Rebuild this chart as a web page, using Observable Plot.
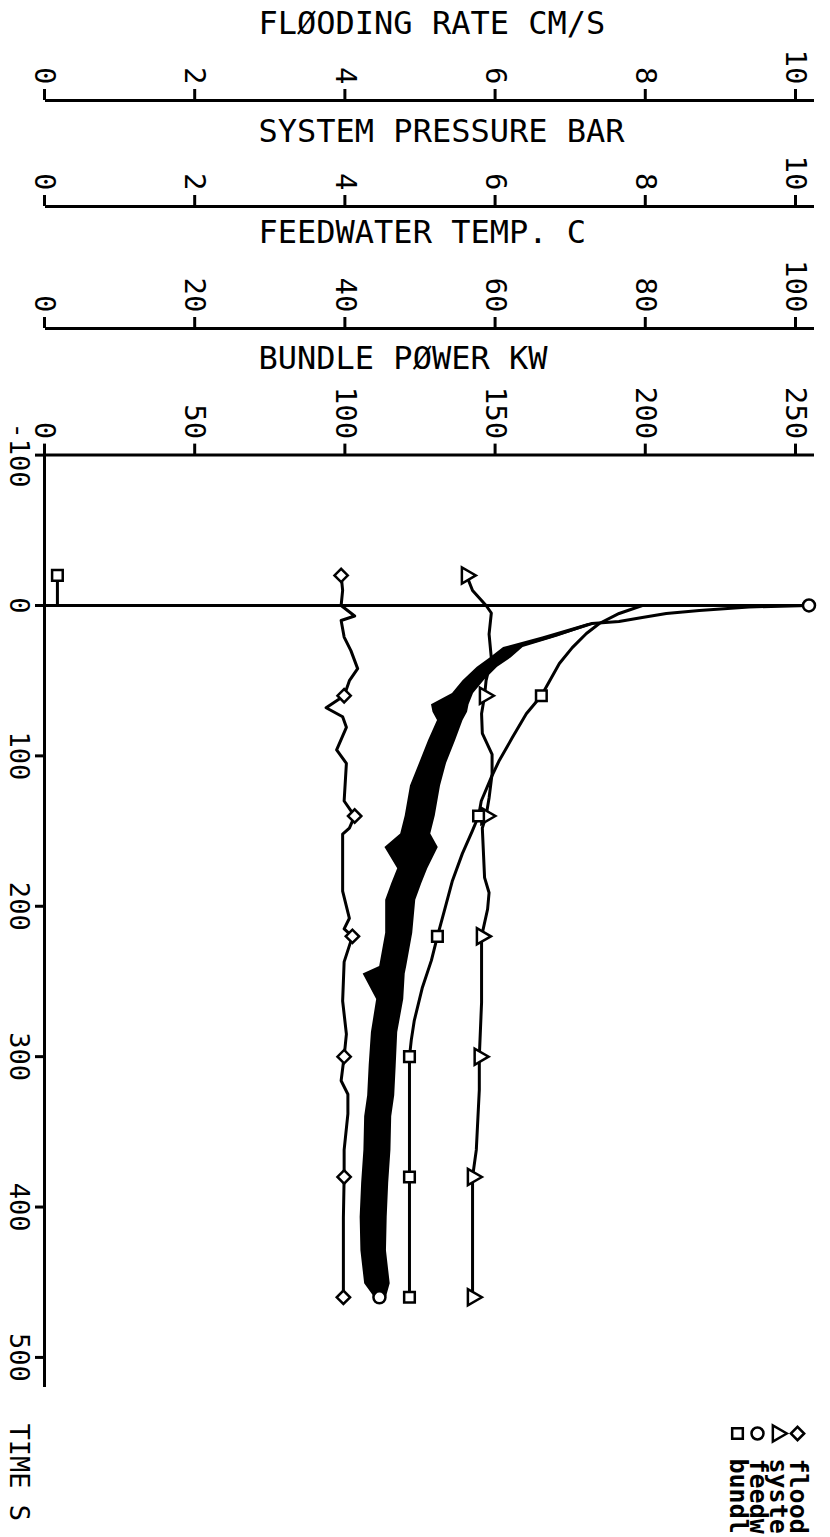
<!DOCTYPE html>
<html><head><meta charset="utf-8">
<script src="https://cdn.jsdelivr.net/npm/d3@7"></script>
<script src="https://cdn.jsdelivr.net/npm/@observablehq/plot@0.6"></script>
<style>
html,body{margin:0;padding:0;background:#fff;width:830px;height:1537px;overflow:hidden}
#rot{position:absolute;left:0;top:0;width:1537px;height:830px;transform-origin:0 0;transform:translate(830px,0) rotate(90deg);background:#fff;overflow:hidden}
#legend{position:absolute;left:1420px;top:0}
</style></head><body><div id="rot"><div id="chart"></div><div id="legend"></div></div>
<script>
// ---- tick labels ----
const timeTicks = [-100, 0, 100, 200, 300, 400, 500];
const floodTicks = [0, 2, 4, 6, 8, 10];
const pressTicks = [0, 2, 4, 6, 8, 10];
const tempTicks = [0, 20, 40, 60, 80, 100];
const powerTicks = [0, 50, 100, 150, 200, 250];

// ---- series names / legend (legend text as visible in the reference, cut at the page edge) ----
const seriesNames = ["flooding rate", "system pressure", "feedwater temp.", "bundle power"];
const legendLabels = ["flood", "syste", "feedw", "bundl"];
const seriesSymbols = ["diamond2", "triangle", "circle", "square"];
const axisTitles = ["FLØODING RATE CM/S", "SYSTEM PRESSURE BAR", "FEEDWATER TEMP. C", "BUNDLE PØWER KW"];

// ---- flooding rate (cm/s) ----
const floodT = [-20, -10, 0, 7, 10, 21, 30, 42, 50, 60, 68, 74, 81, 96, 105, 130, 140, 148, 152, 170, 190, 208, 215, 220, 237, 263, 285, 300, 316, 325, 338, 362, 380, 407, 430, 460];
const floodV = [3.95, 3.97, 3.95, 4.13, 3.95, 3.99, 4.08, 4.17, 4.06, 3.99, 3.75, 3.97, 4.02, 3.89, 4.02, 3.99, 4.13, 4.06, 3.97, 3.97, 3.97, 4.06, 3.99, 4.10, 3.99, 3.97, 4.02, 3.99, 3.95, 4.04, 4.04, 3.99, 3.99, 3.98, 3.98, 3.98];

// ---- system pressure (bar) ----
const pressT = [-20, -10, 0, 5, 19, 35, 50, 60, 72, 85, 99, 112, 128, 140, 148, 181, 191, 202, 220, 264, 300, 322, 362, 380, 428, 460];
const pressV = [5.62, 5.70, 5.88, 5.95, 5.92, 5.95, 5.88, 5.86, 5.82, 5.83, 5.96, 5.96, 5.92, 5.88, 5.83, 5.86, 5.92, 5.90, 5.82, 5.82, 5.79, 5.79, 5.75, 5.70, 5.70, 5.70];

// ---- feedwater temperature (C): centre and noisy envelope ----
const fwT  = [0, 0, 1, 3.3, 5.3, 8, 10.6, 12, 21, 28, 35, 41, 50, 58.5, 66, 71, 76.5, 90, 105, 120, 140, 152, 161, 175, 185, 196, 218, 240, 245, 262, 284, 306, 326, 340, 362, 384, 407, 429, 451, 460];
const fwC  = [0, 101.8, 93.8, 87.2, 82.8, 79.6, 76.5, 72.9, 67.2, 62.3, 60.6, 58.8, 57.0, 55.6, 54.6, 54.2, 53.9, 52.8, 51.6, 50.6, 49.9, 49.3, 49.0, 48.9, 48.1, 47.3, 47.1, 46.3, 46.2, 45.9, 45.1, 44.9, 44.7, 44.3, 44.2, 43.9, 43.7, 43.7, 44.2, 44.6];
const fwLo = [0, 101.8, 93.8, 87.0, 82.6, 79.4, 76.3, 72.3, 66.2, 61.0, 59.2, 57.5, 55.6, 54.2, 51.4, 51.6, 52.2, 51.0, 49.8, 48.6, 47.9, 47.3, 45.2, 46.9, 46.1, 45.3, 45.3, 44.5, 42.3, 44.1, 43.4, 43.1, 42.9, 42.5, 42.4, 42.1, 41.9, 42.0, 42.5, 43.8];
const fwHi = [0, 101.8, 93.8, 87.4, 83.0, 79.8, 76.7, 73.5, 68.2, 63.6, 62.0, 60.2, 58.4, 57.0, 56.4, 56.2, 55.6, 54.6, 53.4, 52.6, 51.9, 51.3, 52.3, 50.9, 50.1, 49.3, 48.9, 48.1, 47.9, 47.7, 46.9, 46.7, 46.5, 46.1, 46.0, 45.7, 45.5, 45.4, 45.9, 45.4];

// ---- bundle power (kW) ----
const powT = [-20, 0, 0, 5.3, 12, 18.6, 28, 38.6, 60, 72, 88, 103, 114, 130, 140, 150, 165, 183, 203, 220, 236, 254, 276, 289, 300, 330, 380, 420, 460];
const powV = [4.3, 4.3, 199, 191.3, 184.7, 180.4, 175.7, 171.4, 165.4, 160.4, 155.7, 151.4, 148.8, 145.4, 144.5, 142.4, 139.1, 135.8, 133.1, 130.8, 128.8, 125.8, 123.1, 122.1, 121.5, 121.5, 121.5, 121.5, 121.5];

// ---- symbol marker times ----
const markTimes = [-20, 60, 140, 220, 300, 380, 460];
const fwMarkTimes = [0, 460];

// common plotting scale is bundle power (kW); other quantities share the axis length
const factor = {"flooding rate": 25, "system pressure": 25, "feedwater temp.": 2.5, "bundle power": 1};

const mk = (name, T, V) => T.map((t, i) => ({s: name, t, y: V[i] * factor[name]}));
const flood = mk("flooding rate", floodT, floodV);
const press = mk("system pressure", pressT, pressV);
const power = mk("bundle power", powT, powV);
const fw = fwT.map((t, i) => ({s: "feedwater temp.", t, y: fwC[i] * 2.5, lo: fwLo[i] * 2.5, hi: fwHi[i] * 2.5}));

const markers = [
  ...flood.filter(d => markTimes.includes(d.t)),
  ...press.filter(d => markTimes.includes(d.t)),
  ...power.filter(d => markTimes.includes(d.t)),
  ...fw.filter(d => fwMarkTimes.includes(d.t) && d.y > 0)
];

const font = "DejaVu Sans Mono";
// stacked value axes: offset of axis line from frame left, ticks, scale factor, title offset
const axes = [
  {dx: -354.6, ticks: floodTicks, f: 25, title: axisTitles[0], tdx: -431.6},
  {dx: -248.6, ticks: pressTicks, f: 25, title: axisTitles[1], tdx: -323.6},
  {dx: -126.6, ticks: tempTicks, f: 2.5, title: axisTitles[2], tdx: -222.6},
  {dx: 0, ticks: powerTicks, f: 1, title: axisTitles[3], tdx: -96.6}
];

const axisMarks = axes.flatMap(a => [
  Plot.ruleX([-100], {dx: a.dx, strokeWidth: 3}),
  Plot.axisY(a.ticks.map(v => v * a.f), {anchor: "left", dx: a.dx, tickSize: 11, tickPadding: 5, strokeWidth: 3, label: null, tickFormat: d => String(Math.round(d / a.f))}),
  Plot.text([a.title], {frameAnchor: "left", dx: a.tdx, dy: 170.5, rotate: -90, textAnchor: "start", lineAnchor: "middle", fontSize: 32})
]);

const chart = Plot.plot({
  width: 1537, height: 830,
  marginLeft: 454.6, marginRight: 150, marginTop: 16, marginBottom: 45,
  style: {fontFamily: font, fontSize: "29px", background: "white", color: "black"},
  x: {domain: [-100, 520]},
  y: {domain: [0, 256]},
  symbol: {domain: seriesNames, range: seriesSymbols},
  marks: [
    Plot.ruleY([0], {strokeWidth: 3}),
    Plot.axisX(timeTicks, {anchor: "bottom", tickSize: 10, tickPadding: 5, strokeWidth: 3, label: null, fontSize: 27, tickFormat: d => String(d)}),
    Plot.text(["TIME S"], {frameAnchor: "bottom-right", dx: 36, dy: 15, textAnchor: "start", lineAnchor: "top", fontSize: 27}),
    ...axisMarks,
    Plot.line(flood, {x: "t", y: "y", strokeWidth: 3, strokeLinejoin: "round"}),
    Plot.line(press, {x: "t", y: "y", strokeWidth: 3, strokeLinejoin: "round"}),
    Plot.line(power, {x: "t", y: "y", strokeWidth: 3, strokeLinejoin: "round"}),
    Plot.areaY(fw.slice(1), {x: "t", y1: "lo", y2: "hi", fill: "black"}),
    Plot.line(fw, {x: "t", y: "y", strokeWidth: 3, strokeLinejoin: "round"}),
    Plot.dot(markers, {x: "t", y: "y", symbol: "s", r: 6, fill: "white", stroke: "black", strokeWidth: 2.5})
  ]
});
document.getElementById("chart").append(chart);

const legend = Plot.plot({
  width: 117, height: 125, margin: 0,
  style: {fontFamily: font, overflow: "visible", background: "transparent", color: "black"},
  x: {domain: [0, 1], range: [13, 38], axis: null},
  y: {type: "point", domain: seriesNames, range: [20, 103], axis: null},
  symbol: {domain: seriesNames, range: seriesSymbols},
  marks: [
    Plot.dot(seriesNames, {x: 0, y: d => d, symbol: d => d, r: 6, fill: "white", stroke: "black", strokeWidth: 2.5}),
    Plot.text(seriesNames, {x: 1, y: d => d, text: (d, i) => legendLabels[i], textAnchor: "start", fontSize: 25, fontWeight: "bold"})
  ]
});
document.getElementById("legend").append(legend);
</script></body></html>
